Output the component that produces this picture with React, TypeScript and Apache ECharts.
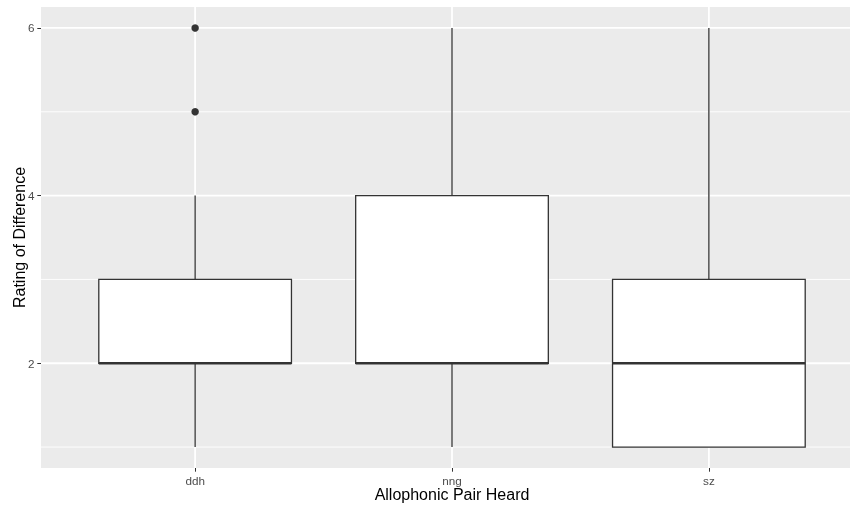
import React, { useEffect, useRef } from "react";
import * as echarts from "echarts";

const categories = ["ddh", "nng", "sz"];
const lowerWhisker = [1, 1, 1];
const q1 = [2, 2, 1];
const median = [2, 2, 2];
const q3 = [3, 4, 3];
const upperWhisker = [4, 6, 6];
const outliers: [number, number][] = [
  [0, 5],
  [0, 6],
];
const yMajorTicks = [2, 4, 6];
const yMinorTicks = [1, 3, 5];
const xTicks = [1, 2, 3];

const X_MIN = 0.4;
const X_MAX = 3.6;
const Y_MIN = 0.75;
const Y_MAX = 6.25;

export default function App() {
  const ref = useRef<HTMLDivElement>(null);
  useEffect(() => {
    if (!ref.current) return;
    const chart = echarts.init(ref.current, null, { renderer: "svg" });
    const gridData: any[] = [];
    yMinorTicks.forEach((v) => gridData.push(["h", v, 0]));
    yMajorTicks.forEach((v) => gridData.push(["h", v, 1]));
    xTicks.forEach((v) => gridData.push(["v", v, 1]));

    const boxData = categories.map((_, i) => [
      i + 1,
      lowerWhisker[i],
      q1[i],
      median[i],
      q3[i],
      upperWhisker[i],
    ]);

    const option: any = {
      animation: false,
      grid: {
        left: 41,
        top: 7,
        width: 822,
        height: 461,
        show: true,
        backgroundColor: "#EBEBEB",
        borderWidth: 0,
        outerBoundsMode: "none",
        containLabel: false,
      },
      xAxis: {
        type: "value",
        min: X_MIN,
        max: X_MAX,
        axisLine: { show: false },
        splitLine: { show: false },
        axisTick: {
          show: true,
          length: 3.7,
          lineStyle: { color: "#333333", width: 1 },
          customValues: xTicks,
        },
        axisLabel: {
          show: true,
          customValues: xTicks,
          formatter: (v: number) => categories[Math.round(v) - 1] ?? "",
          color: "#4D4D4D",
          fontSize: 11.7,
          fontFamily: "Liberation Sans, Arial, sans-serif",
          margin: 6,
        },
        name: "Allophonic Pair Heard",
        nameLocation: "middle",
        nameMoveOverlap: false,
        nameGap: 18,
        nameTextStyle: {
          color: "#000000",
          fontSize: 16,
          fontFamily: "Liberation Sans, Arial, sans-serif",
        },
      },
      yAxis: {
        type: "value",
        min: Y_MIN,
        max: Y_MAX,
        axisLine: { show: false },
        splitLine: { show: false },
        axisTick: {
          show: true,
          length: 3.7,
          lineStyle: { color: "#333333", width: 1 },
          customValues: yMajorTicks,
        },
        axisLabel: {
          show: true,
          customValues: yMajorTicks,
          color: "#4D4D4D",
          fontSize: 11.7,
          fontFamily: "Liberation Sans, Arial, sans-serif",
          margin: 6.5,
        },
        name: "Rating of Difference",
        nameLocation: "middle",
        nameMoveOverlap: false,
        nameGap: 14,
        nameTextStyle: {
          color: "#000000",
          fontSize: 16,
          fontFamily: "Liberation Sans, Arial, sans-serif",
        },
      },
      series: [
        {
          type: "custom",
          z: 1,
          silent: true,
          clip: true,
          data: gridData,
          renderItem: (params: any, api: any) => {
            const kind = gridData[params.dataIndex][0];
            const v = api.value(1);
            const major = api.value(2) === 1;
            let p1, p2;
            if (kind === "h") {
              p1 = api.coord([X_MIN, v]);
              p2 = api.coord([X_MAX, v]);
            } else {
              p1 = api.coord([v, Y_MIN]);
              p2 = api.coord([v, Y_MAX]);
            }
            return {
              type: "line",
              shape: { x1: p1[0], y1: p1[1], x2: p2[0], y2: p2[1] },
              style: { stroke: "#FFFFFF", lineWidth: major ? 1.8 : 0.9 },
            };
          },
        },
        {
          type: "custom",
          z: 2,
          clip: true,
          data: boxData,
          renderItem: (params: any, api: any) => {
            const x = api.value(0);
            const lo = api.value(1);
            const b1 = api.value(2);
            const med = api.value(3);
            const b3 = api.value(4);
            const hi = api.value(5);
            const hw = 0.375;
            const tl = api.coord([x - hw, b3]);
            const br = api.coord([x + hw, b1]);
            const mL = api.coord([x - hw, med]);
            const mR = api.coord([x + hw, med]);
            const wTop = api.coord([x, hi]);
            const wB3 = api.coord([x, b3]);
            const wB1 = api.coord([x, b1]);
            const wLo = api.coord([x, lo]);
            const stroke = "#333333";
            return {
              type: "group",
              children: [
                {
                  type: "line",
                  shape: { x1: wTop[0], y1: wTop[1], x2: wB3[0], y2: wB3[1] },
                  style: { stroke, lineWidth: 1.3 },
                },
                {
                  type: "line",
                  shape: { x1: wB1[0], y1: wB1[1], x2: wLo[0], y2: wLo[1] },
                  style: { stroke, lineWidth: 1.3 },
                },
                {
                  type: "rect",
                  shape: {
                    x: tl[0],
                    y: tl[1],
                    width: br[0] - tl[0],
                    height: br[1] - tl[1],
                  },
                  style: { fill: "#FFFFFF", stroke, lineWidth: 1.3 },
                },
                {
                  type: "line",
                  shape: { x1: mL[0], y1: mL[1], x2: mR[0], y2: mR[1] },
                  style: { stroke, lineWidth: 2.6 },
                },
              ],
            };
          },
        },
        {
          type: "scatter",
          z: 3,
          symbol: "circle",
          symbolSize: 7.5,
          itemStyle: { color: "#333333", opacity: 1 },
          data: outliers.map(([i, v]) => [i + 1, v]),
        },
      ],
    };
    chart.setOption(option);
    return () => chart.dispose();
  }, []);
  return (
    <div
      ref={ref}
      style={{ position: "fixed", left: 0, top: 0, width: 850, height: 506 }}
    />
  );
}
